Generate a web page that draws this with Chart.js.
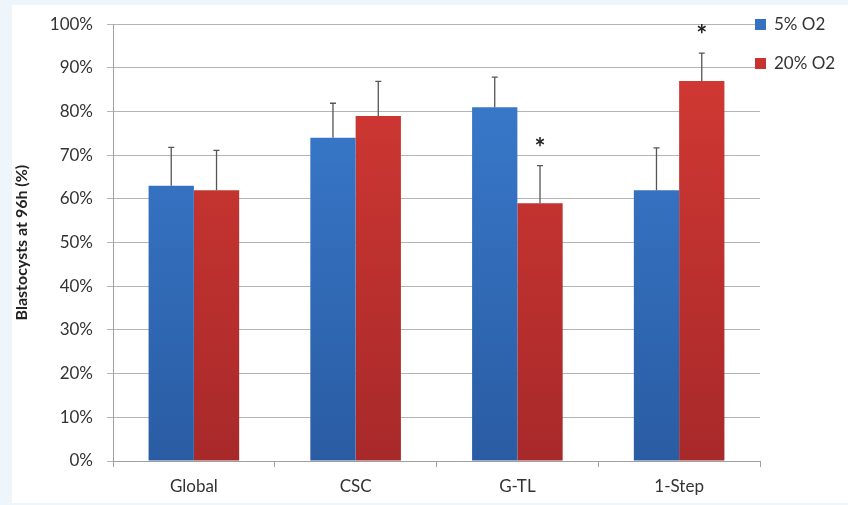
<!DOCTYPE html>
<html>
<head>
<meta charset="utf-8">
<script src="https://cdn.jsdelivr.net/npm/chart.js@4/dist/chart.umd.min.js"></script>
<style>
  html, body { margin: 0; padding: 0; background: #eef6fb; }
  #wrap { width: 848px; height: 505px; position: relative; }
  canvas { display: block; }
</style>
</head>
<body>
<div id="wrap"><canvas id="chart" width="848" height="505"></canvas></div>
<script>
// Culture media compared under two oxygen tensions
const categories = ['Global', 'CSC', 'G-TL', '1-Step'];
const seriesNames = ['5% O2', '20% O2'];

// Blastocyst rate at 96h (%)
const lowO2 = [63, 74, 81, 62];
const highO2 = [62, 79, 59, 87];

// Upper error (SD, percentage points)
const lowO2Err = [8.8, 7.9, 6.9, 9.7];
const highO2Err = [9.1, 7.9, 8.6, 6.4];

// Significant difference vs 5% O2 (marked with *)
const highO2Sig = [false, false, true, true];

const yMin = 0, yMax = 100, yStep = 10;

const FONT = 'Lato, "Open Sans", "DejaVu Sans", sans-serif';

function barGradient(top, bottom) {
  return (context) => {
    const chart = context.chart;
    const area = chart.chartArea;
    if (!area) return top;
    const g = chart.ctx.createLinearGradient(0, area.top, 0, area.bottom);
    g.addColorStop(0, top);
    g.addColorStop(1, bottom);
    return g;
  };
}

const pageBackground = {
  id: 'pageBackground',
  beforeDraw(chart) {
    const ctx = chart.ctx;
    ctx.save();
    ctx.fillStyle = '#eef6fb';
    ctx.fillRect(0, 0, chart.width, chart.height);
    ctx.fillStyle = '#ffffff';
    ctx.fillRect(12, 5, chart.width - 12, chart.height - 7);
    ctx.restore();
  }
};

const errorBars = {
  id: 'errorBars',
  afterDatasetsDraw(chart) {
    const ctx = chart.ctx;
    const yScale = chart.scales.y;
    ctx.save();
    chart.data.datasets.forEach((ds, i) => {
      const meta = chart.getDatasetMeta(i);
      meta.data.forEach((bar, j) => {
        const top = yScale.getPixelForValue(ds.data[j] + ds.errors[j]);
        ctx.strokeStyle = '#555555';
        ctx.lineWidth = 1.3;
        ctx.beginPath();
        ctx.moveTo(bar.x, bar.y);
        ctx.lineTo(bar.x, top);
        ctx.moveTo(bar.x - 3, top);
        ctx.lineTo(bar.x + 3, top);
        ctx.stroke();
        if (ds.significant && ds.significant[j]) {
          ctx.fillStyle = '#222222';
          ctx.font = 'bold 26px ' + FONT;
          ctx.textAlign = 'center';
          ctx.textBaseline = 'middle';
          ctx.fillText('*', bar.x, top - 17);
        }
      });
    });
    ctx.restore();
  }
};

const sideLegend = {
  id: 'sideLegend',
  afterDraw(chart) {
    const ctx = chart.ctx;
    const x = 755;
    const ys = [24, 63];
    ctx.save();
    chart.data.datasets.forEach((ds, i) => {
      ctx.fillStyle = ds.legendColor;
      ctx.fillRect(x, ys[i] - 5, 11, 11);
      ctx.fillStyle = '#333333';
      ctx.font = '17px ' + FONT;
      ctx.textAlign = 'left';
      ctx.textBaseline = 'middle';
      ctx.fillText(ds.label, x + 19, ys[i] + 1);
    });
    ctx.restore();
  }
};

new Chart(document.getElementById('chart'), {
  type: 'bar',
  data: {
    labels: categories,
    datasets: [
      {
        label: seriesNames[0],
        data: lowO2,
        errors: lowO2Err,
        backgroundColor: barGradient('#3b7ed2', '#2a5ca3'),
        legendColor: '#3670c0',
        categoryPercentage: 0.56,
        barPercentage: 1.0
      },
      {
        label: seriesNames[1],
        data: highO2,
        errors: highO2Err,
        significant: highO2Sig,
        backgroundColor: barGradient('#d53a34', '#a8292a'),
        legendColor: '#c8322f',
        categoryPercentage: 0.56,
        barPercentage: 1.0
      }
    ]
  },
  options: {
    responsive: false,
    animation: false,
    devicePixelRatio: 1,
    layout: { padding: { left: 12, top: 18, right: 88, bottom: 0 } },
    plugins: {
      legend: { display: false },
      tooltip: { enabled: false }
    },
    scales: {
      x: {
        grid: { drawOnChartArea: false, drawTicks: true, tickLength: 6, offset: true, color: '#a0a0a0' },
        border: { color: '#a0a0a0' },
        ticks: { color: '#333333', font: { family: FONT, size: 17 }, padding: 9 },
        afterFit(scale) { scale.height = 44; }
      },
      y: {
        min: yMin,
        max: yMax,
        ticks: {
          stepSize: yStep,
          color: '#333333',
          font: { family: FONT, size: 17 },
          padding: 14,
          callback: (v) => v + '%'
        },
        grid: { color: '#b4b4b4', tickLength: 6 },
        border: { color: '#a0a0a0' },
        title: {
          display: true,
          text: 'Blastocysts at 96h (%)',
          color: '#222222',
          font: { family: FONT, size: 16, weight: 'bold' },
          padding: { top: 0, bottom: 2 }
        },
        afterFit(scale) { scale.width = 101; }
      }
    }
  },
  plugins: [pageBackground, errorBars, sideLegend]
});
</script>
</body>
</html>
